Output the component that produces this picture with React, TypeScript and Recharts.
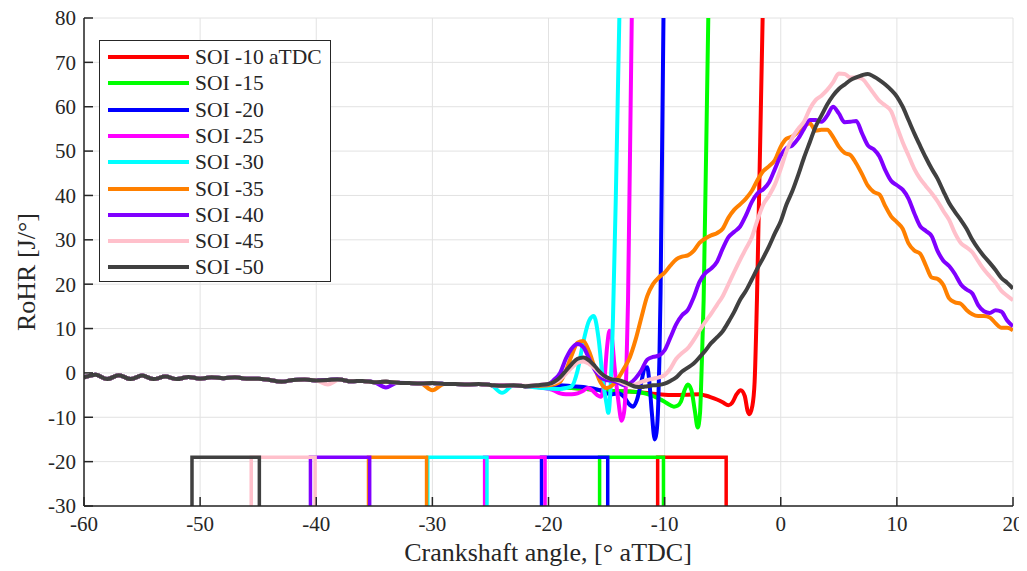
import { LineChart, Line, XAxis, YAxis, CartesianGrid } from "recharts";

// shared pre-combustion baseline (deg aTDC, J/deg)
const baseX = [-60, -59, -58, -57, -56, -55, -54, -53, -52, -51, -50, -49, -48, -47, -46, -45, -44, -43, -42, -41, -40, -39, -38, -37, -36, -35, -34, -33, -32, -31, -30, -29, -28, -27, -26, -25, -24, -23];
const baseY = [-1.0, -0.4, -1.4, -0.5, -1.4, -0.6, -1.4, -0.8, -1.4, -0.9, -1.3, -1.0, -1.2, -1.0, -1.3, -1.3, -1.6, -2.0, -1.6, -1.5, -1.7, -1.6, -1.5, -1.9, -1.8, -2.1, -2.0, -2.2, -2.3, -2.4, -2.3, -2.5, -2.5, -2.6, -2.5, -2.7, -2.9, -2.8];

// small local dips in the baseline where a colour peeks out under the black line
const dipsPink: [number, number][] = [[-39, -2.6]];
const dipsPurple: [number, number][] = [[-34, -3.3]];
const dipsOrange: [number, number][] = [[-30, -3.9]];
const dipsCyan: [number, number][] = [[-24, -4.5]];

const soi10: [number, number][] = [
  [-22, -3.0], [-21, -3.0], [-20, -3.0], [-19, -3.2], [-18, -3.4], [-17, -3.6], [-16, -3.8], [-15, -4.0], [-14, -4.1], [-13, -4.2], [-12, -4.4],
  [-11, -4.7], [-10, -4.9], [-9, -5.0], [-8, -4.9], [-7, -4.8], [-6.5, -5.1], [-6, -5.5], [-5.5, -6.0], [-5, -6.6], [-4.5, -7.3], [-4.2, -6.8],
  [-3.8, -4.8], [-3.45, -3.9], [-3.1, -5.2], [-2.85, -8.6], [-2.7, -9.3], [-2.45, -7.5], [-2.25, -2.0], [-2.05, 16.4], [-1.56, 80], [-1.2, 120],
];
const soi15: [number, number][] = [
  [-22, -3.0], [-21, -3.0], [-20, -3.0], [-19, -3.2], [-18, -3.4], [-17, -3.6], [-16, -3.8], [-15, -4.0], [-14, -4.1], [-13, -4.2], [-12, -4.4],
  [-11, -5.2], [-10.5, -5.8], [-10, -6.5], [-9.5, -7.3], [-9.2, -7.6], [-8.9, -7.4], [-8.6, -6.5], [-8.3, -4.0], [-8.0, -2.6], [-7.7, -3.8],
  [-7.4, -8.5], [-7.15, -12.3], [-6.95, -9.0], [-6.8, 2.0], [-6.64, 16.4], [-6.24, 80], [-5.9, 120],
];
const soi20: [number, number][] = [
  [-22, -3.0], [-21, -2.9], [-20, -2.8], [-19, -2.8], [-18, -3.0], [-17, -3.2], [-16.5, -3.4], [-16, -3.6], [-15.5, -4.0], [-15, -4.6],
  [-14.5, -4.8], [-14, -4.6], [-13.5, -5.4], [-13, -7.2], [-12.7, -7.6], [-12.4, -6.2], [-12, -2.0], [-11.7, 1.2], [-11.5, 1.3], [-11.3, -2.5],
  [-11.1, -9.0], [-10.85, -15.0], [-10.7, -13.5], [-10.55, -7.0], [-10.45, 3.0], [-10.35, 18], [-10.1, 80], [-9.85, 120],
];
const soi25: [number, number][] = [
  [-22, -3.0], [-21, -3.2], [-20, -3.6], [-19.5, -4.0], [-19, -4.6], [-18.5, -4.8], [-18, -4.8], [-17.5, -4.6], [-17, -4.0], [-16.6, -3.4],
  [-16.2, -4.0], [-15.8, -5.0], [-15.5, -5.4], [-15.2, -2.0], [-14.95, 6.0], [-14.75, 9.5], [-14.55, 8.0], [-14.3, 1.0], [-14.0, -6.0],
  [-13.7, -10.8], [-13.5, -9.0], [-13.3, 0.0], [-13.15, 16.4], [-12.83, 80], [-12.5, 120],
];
const soi30: [number, number][] = [
  [-22, -3.0], [-21, -3.3], [-20, -3.5], [-19, -3.6], [-18.5, -3.4], [-18, -3.0], [-17.5, 0.5], [-17, 7.0], [-16.5, 11.8], [-16.1, 12.8],
  [-15.7, 8.0], [-15.3, -2.0], [-15.0, -7.0], [-14.85, -9.0], [-14.65, -3.0], [-14.45, 12], [-14.2, 40], [-13.9, 80], [-13.6, 115],
];
const soi35: [number, number][] = [
  [-22, -3.0], [-21, -2.9], [-20, -2.8], [-19.5, -2.6], [-19, -2.0], [-18.5, 0.5], [-18, 4.0], [-17.5, 6.8], [-17, 7.2], [-16.5, 4.8],
  [-16, 1.0], [-15.5, -2.2], [-15, -3.4], [-14.5, -2.8], [-14, -1.2], [-13.5, 1.0], [-13, 3.5], [-12.5, 7.5], [-12, 12.5], [-11.5, 17.3],
  [-11, 20], [-10.5, 21.5], [-10, 22.6], [-9.5, 24.2], [-9, 25.6], [-8.5, 26.2], [-8, 26.5], [-7.5, 27.5], [-7, 29.3], [-6.5, 30.3],
  [-6, 31], [-5.5, 31.5], [-5, 32.5], [-4.5, 35], [-4, 36.8], [-3.5, 38], [-3, 39.3], [-2.5, 41], [-2, 43.5], [-1.5, 45.5], [-1, 46.6],
  [-0.5, 48], [0, 51], [0.5, 52.8], [1, 53.3], [1.5, 54.4], [2, 55.6], [2.5, 56.3], [3, 54.6], [3.5, 54.8], [4, 54.8], [4.5, 53.2],
  [5, 51], [5.5, 49.6], [6, 49.1], [6.5, 47.2], [7, 44.8], [7.5, 42.2], [8, 40.8], [8.5, 40.2], [9, 37.6], [9.5, 35.3], [10, 34],
  [10.5, 32.5], [11, 29.2], [11.5, 27.6], [12, 26.9], [12.5, 24.2], [13, 21.5], [13.5, 21.2], [14, 19.8], [14.5, 16.8], [15, 15.9],
  [15.5, 15.6], [16, 14.2], [16.5, 13.2], [17, 12.8], [17.5, 12.8], [18, 12.5], [18.5, 11.2], [19, 10.2], [19.5, 10.2], [20, 9.6],
];
const soi40: [number, number][] = [
  [-22, -3.0], [-21, -2.8], [-20, -2.5], [-19.5, -1.5], [-19, 0], [-18.5, 3.2], [-18, 5.5], [-17.5, 6.5], [-17, 5.8], [-16.5, 3.2],
  [-16, 0.6], [-15.5, -1.0], [-15, -1.6], [-14.5, -1.8], [-14, -2.2], [-13.5, -2.8], [-13, -2.4], [-12.5, -1.2], [-12, 0.6], [-11.5, 3.0],
  [-11, 3.6], [-10.5, 3.9], [-10, 5.1], [-9.5, 8.0], [-9, 11.0], [-8.5, 13.0], [-8, 14.2], [-7.5, 17.0], [-7, 20.5], [-6.5, 22.5],
  [-6, 23.5], [-5.5, 25], [-5, 28], [-4.5, 30.6], [-4, 31.8], [-3.5, 33], [-3, 35.5], [-2.5, 38.5], [-2, 40.5], [-1.5, 41.4], [-1, 43],
  [-0.5, 46], [0, 49], [0.5, 50.7], [1, 51.3], [1.5, 52.8], [2, 55], [2.5, 57], [3, 57], [3.5, 56.6], [4, 58], [4.5, 60], [5, 58.5],
  [5.5, 56.5], [6, 56.6], [6.5, 56.8], [7, 54], [7.5, 51.3], [8, 50.4], [8.5, 48.8], [9, 45.7], [9.5, 43.3], [10, 42.3], [10.5, 41.3],
  [11, 39.3], [11.5, 36], [12, 33.1], [12.5, 32], [13, 30.8], [13.5, 27.5], [14, 25.3], [14.5, 24.1], [15, 22.3], [15.5, 20], [16, 18.8],
  [16.5, 17.9], [17, 15.3], [17.5, 13.9], [18, 13.5], [18.5, 14.1], [19, 13.8], [19.5, 11.8], [20, 10.5],
];
const soi45: [number, number][] = [
  [-22, -2.9], [-21, -2.7], [-20, -2.5], [-19.5, -2.2], [-19, -1.5], [-18.5, -0.2], [-18, 1.2], [-17.5, 2.3], [-17, 2.6], [-16.5, 2.0],
  [-16, 1.0], [-15.5, -0.3], [-15, -1.0], [-14.5, -1.4], [-14, -1.8], [-13.5, -2.4], [-13, -2.8], [-12.5, -2.6], [-12, -2.0], [-11.5, -1.6],
  [-11, -1.3], [-10.5, -1.0], [-10, -0.5], [-9.5, 1.0], [-9, 3.2], [-8.5, 4.5], [-8, 5.6], [-7.5, 7.4], [-7, 9.5], [-6.5, 11.5],
  [-6, 13.3], [-5.5, 15.3], [-5, 17.3], [-4.5, 20], [-4, 22.8], [-3.5, 25.5], [-3, 28], [-2.5, 30.5], [-2, 34.5], [-1.5, 38], [-1, 40],
  [-0.5, 42.5], [0, 46], [0.5, 50], [1, 53], [1.5, 55], [2, 56.6], [2.5, 59.5], [3, 61.5], [3.5, 62.5], [4, 63.8], [4.5, 65.5], [5, 67.5],
  [5.5, 67.4], [6, 66.6], [6.5, 66.6], [7, 66.3], [7.5, 64.8], [8, 63], [8.5, 61.3], [9, 60.3], [9.5, 59], [10, 55.5], [10.5, 52],
  [11, 49], [11.5, 46], [12, 43.8], [12.5, 42.1], [13, 40.5], [13.5, 38.7], [14, 36.5], [14.5, 34.5], [15, 31.5], [15.5, 29.3], [16, 28.3],
  [16.5, 27.2], [17, 25.2], [17.5, 23.3], [18, 21.8], [18.5, 20.3], [19, 18.5], [19.5, 17.4], [20, 16.4],
];
const soi50: [number, number][] = [
  [-22, -3.0], [-21, -2.8], [-20, -2.5], [-19.5, -2.0], [-19, -1.0], [-18.5, 0.5], [-18, 2.0], [-17.5, 3.2], [-17, 3.5], [-16.5, 2.8],
  [-16, 1.5], [-15.5, 0.0], [-15, -1.0], [-14.5, -1.5], [-14, -1.6], [-13.5, -2.0], [-13, -2.6], [-12.5, -3.1], [-12, -3.2], [-11.5, -3.0],
  [-11, -2.8], [-10.5, -2.7], [-10, -2.4], [-9.5, -1.8], [-9, -1.0], [-8.5, 0.3], [-8, 1.2], [-7.5, 2.1], [-7, 3.5], [-6.5, 5.0],
  [-6, 6.7], [-5.5, 8.0], [-5, 9.4], [-4.5, 11.5], [-4, 13.8], [-3.5, 16.5], [-3, 18.5], [-2.5, 21], [-2, 23.6], [-1.5, 26], [-1, 28.6],
  [-0.5, 31.5], [0, 34.2], [0.5, 38], [1, 41], [1.5, 44.6], [2, 48.5], [2.5, 52], [3, 55.5], [3.5, 58], [4, 60.5], [4.5, 62.5], [5, 64],
  [5.5, 65], [6, 66], [6.5, 66.6], [7, 67.1], [7.5, 67.4], [8, 66.8], [8.5, 66], [9, 65], [9.5, 63.8], [10, 62.3], [10.5, 60], [11, 57],
  [11.5, 54], [12, 51.2], [12.5, 48.5], [13, 46], [13.5, 43.8], [14, 41], [14.5, 38.3], [15, 36.3], [15.5, 34.5], [16, 32.5], [16.5, 30],
  [17, 28], [17.5, 26.3], [18, 24.8], [18.5, 23.2], [19, 21.4], [19.5, 20.3], [20, 19.0],
];

// injection pulse markers
const injStart = [-10.6, -15.6, -20.6, -25.5, -30.4, -35.5, -40.5, -45.6, -50.7];
const injEnd = [-4.7, -10.1, -14.9, -20.3, -25.3, -30.5, -35.4, -40.1, -44.9];
const injTop = -19;
const injBottom = -30;

const names = ["SOI -10 aTDC", "SOI -15", "SOI -20", "SOI -25", "SOI -30", "SOI -35", "SOI -40", "SOI -45", "SOI -50"];
const colors = ["#ff0000", "#00ff00", "#0000ff", "#ff00ff", "#00ffff", "#ff8000", "#8000ff", "#ffc0cb", "#404040"];

const xTicks = [-60, -50, -40, -30, -20, -10, 0, 10, 20];
const yTicks = [-30, -20, -10, 0, 10, 20, 30, 40, 50, 60, 70, 80];

function build(tail: [number, number][], dips: [number, number][] = []) {
  const pts = baseX.map((x, i) => {
    const d = dips.find((p) => p[0] === x);
    return { x, y: d ? d[1] : baseY[i] };
  });
  return [...pts, ...tail.map(([x, y]) => ({ x, y }))];
}

const series = [
  build(soi10),
  build(soi15),
  build(soi20),
  build(soi25),
  build(soi30, dipsCyan),
  build(soi35, dipsOrange),
  build(soi40, dipsPurple),
  build(soi45, dipsPink),
  build(soi50),
];

const pulses = injStart.map((s, i) => [
  { x: s, y: injBottom },
  { x: s, y: injTop },
  { x: injEnd[i], y: injTop },
  { x: injEnd[i], y: injBottom },
]);

const FONT = "'Liberation Serif', 'Times New Roman', serif";
const INK = "#262626";
const TL = 9;
const tickText = { fontFamily: FONT, fontSize: 21, fill: INK };

const LeftTick = ({ x, y, payload }: any) => (
  <g>
    <line x1={x + 8} x2={x + 8 + TL} y1={y} y2={y} stroke={INK} strokeWidth={1.5} />
    <text x={x} y={y} dy="0.35em" textAnchor="end" style={tickText}>
      {payload.value}
    </text>
  </g>
);

const BottomTick = ({ x, y, payload }: any) => (
  <g>
    <line x1={x} x2={x} y1={y - 10} y2={y - 10 - TL} stroke={INK} strokeWidth={1.5} />
    <text x={x} y={y} dy="0.72em" textAnchor="middle" style={tickText}>
      {payload.value}
    </text>
  </g>
);

const TopTick = ({ x, y }: any) => <line x1={x} x2={x} y1={y} y2={y + TL} stroke={INK} strokeWidth={1.5} />;
const RightTick = ({ x, y }: any) => <line x1={x} x2={x - TL} y1={y} y2={y} stroke={INK} strokeWidth={1.5} />;

export default function App() {
  return (
    <div
      style={{
        position: "relative",
        width: 1027,
        height: 571,
        marginTop: -8,
        marginLeft: -8,
        fontFamily: FONT,
        color: INK,
      }}
    >
      <LineChart width={1027} height={563} margin={{ top: 18, right: 14, bottom: 17, left: 24 }}>
        <CartesianGrid stroke="#e2e2e2" strokeWidth={1} />
        <XAxis
          dataKey="x"
          type="number"
          domain={[-60, 20]}
          ticks={xTicks}
          interval={0}
          allowDataOverflow
          height={40}
          tickSize={0}
          tickMargin={10}
          tickLine={false}
          tick={<BottomTick />}
          axisLine={{ stroke: INK, strokeWidth: 1.5 }}
        />
        <XAxis
          xAxisId="top"
          orientation="top"
          dataKey="x"
          type="number"
          domain={[-60, 20]}
          ticks={xTicks}
          interval={0}
          allowDataOverflow
          height={0}
          tickSize={0}
          tickMargin={0}
          tickLine={false}
          tick={<TopTick />}
          axisLine={{ stroke: INK, strokeWidth: 1.5 }}
        />
        <YAxis
          type="number"
          domain={[-30, 80]}
          ticks={yTicks}
          interval={0}
          allowDataOverflow
          width={60}
          tickSize={0}
          tickMargin={8}
          tickLine={false}
          tick={<LeftTick />}
          axisLine={{ stroke: INK, strokeWidth: 1.5 }}
        />
        <YAxis
          yAxisId="right"
          orientation="right"
          type="number"
          domain={[-30, 80]}
          ticks={yTicks}
          interval={0}
          allowDataOverflow
          width={0}
          tickSize={0}
          tickMargin={0}
          tickLine={false}
          tick={<RightTick />}
          axisLine={{ stroke: INK, strokeWidth: 1.5 }}
        />
        {pulses.map((d, i) => (
          <Line
            key={"p" + i}
            data={d}
            dataKey="y"
            type="linear"
            stroke={colors[i]}
            strokeWidth={3.5}
            dot={false}
            activeDot={false}
            isAnimationActive={false}
          />
        ))}
        {series.map((d, i) => (
          <Line
            key={"s" + i}
            data={d}
            dataKey="y"
            name={names[i]}
            type="monotone"
            stroke={colors[i]}
            strokeWidth={4}
            dot={false}
            activeDot={false}
            isAnimationActive={false}
          />
        ))}
      </LineChart>

      <div
        style={{
          position: "absolute",
          left: 99,
          top: 40,
          width: 232,
          height: 242,
          boxSizing: "border-box",
          border: `1.3px solid ${INK}`,
          background: "#fff",
        }}
      >
        {names.map((n, i) => (
          <div
            key={n}
            style={{
              position: "absolute",
              left: 8,
              top: 4 + i * 26.3,
              height: 24,
              display: "flex",
              alignItems: "center",
              whiteSpace: "nowrap",
            }}
          >
            <span style={{ display: "inline-block", width: 81, height: 4, background: colors[i] }} />
            <span style={{ marginLeft: 6, fontSize: 21.5, lineHeight: "24px" }}>{n}</span>
          </div>
        ))}
      </div>

      <div
        style={{
          position: "absolute",
          left: 248,
          top: 538,
          width: 600,
          textAlign: "center",
          fontSize: 26,
          lineHeight: "30px",
        }}
      >
        Crankshaft angle, [° aTDC]
      </div>
      <div
        style={{
          position: "absolute",
          left: 27 - 100,
          top: 272 - 15,
          width: 200,
          height: 30,
          textAlign: "center",
          fontSize: 26,
          lineHeight: "30px",
          transform: "rotate(-90deg)",
        }}
      >
        RoHR [J/°]
      </div>
    </div>
  );
}
